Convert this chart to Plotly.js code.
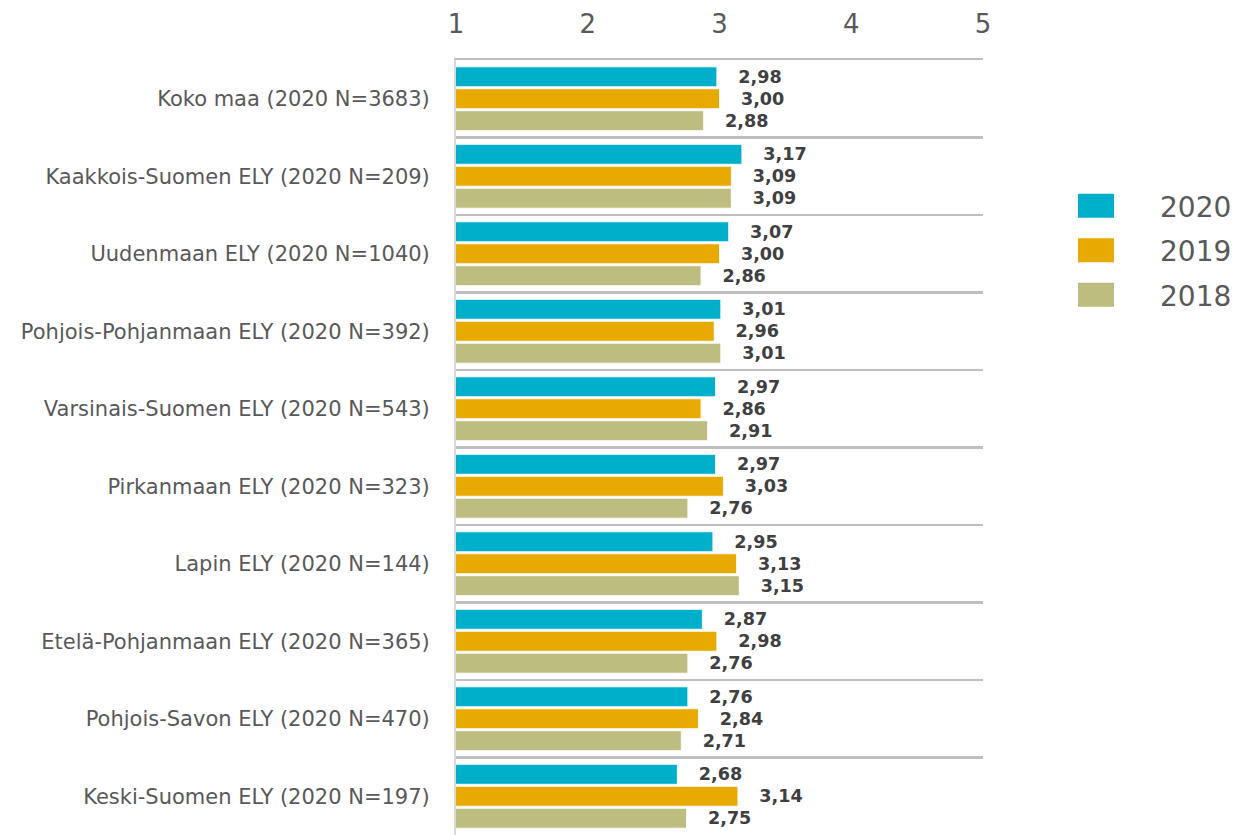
<!DOCTYPE html>
<html>
<head>
<meta charset="utf-8">
<script src="https://cdn.plot.ly/plotly-3.0.1.min.js"></script>
<style>html,body{margin:0;padding:0;background:#fff;}#chart{width:1238px;height:835px;}</style>
</head>
<body>
<div id="chart"></div>
<script>
const categories = [
  "Koko maa (2020 N=3683)",
  "Kaakkois-Suomen ELY (2020 N=209)",
  "Uudenmaan ELY (2020 N=1040)",
  "Pohjois-Pohjanmaan ELY (2020 N=392)",
  "Varsinais-Suomen ELY (2020 N=543)",
  "Pirkanmaan ELY (2020 N=323)",
  "Lapin ELY (2020 N=144)",
  "Etelä-Pohjanmaan ELY (2020 N=365)",
  "Pohjois-Savon ELY (2020 N=470)",
  "Keski-Suomen ELY (2020 N=197)"
];
const values2020 = [2.98, 3.17, 3.07, 3.01, 2.97, 2.97, 2.95, 2.87, 2.76, 2.68];
const values2019 = [3.00, 3.09, 3.00, 2.96, 2.86, 3.03, 3.13, 2.98, 2.84, 3.14];
const values2018 = [2.88, 3.09, 2.86, 3.01, 2.91, 2.76, 3.15, 2.76, 2.71, 2.75];
const seriesNames = ["2020", "2019", "2018"];
const seriesColors = ["#00AFC9", "#E9AA00", "#BDBD80"];
const xTicks = [1, 2, 3, 4, 5];

const FONT = "DejaVu Sans, Verdana, sans-serif";
const seriesValues = [values2020, values2019, values2018];

const traces = seriesValues.map((vals, i) => ({
  type: "bar",
  orientation: "h",
  name: seriesNames[i],
  legendgroup: seriesNames[i],
  y: categories,
  x: vals,
  marker: { color: seriesColors[i], line: { color: "rgba(255,255,255,0.9)", width: 1 } },
  texttemplate: "\u00a0\u00a0\u00a0%{x:.2f}",
  textposition: "outside",
  cliponaxis: false,
  textfont: { family: FONT, size: 18.5, color: "#404040", weight: "bold" },
  hoverinfo: "skip"
}));

const layout = {
  width: 1238,
  height: 835,
  margin: { l: 456, r: 255, t: 60, b: 0 },
  paper_bgcolor: "#ffffff",
  plot_bgcolor: "#ffffff",
  separators: ", ",
  barmode: "group",
  bargap: 0.15,
  bargroupgap: 0.09,
  font: { family: FONT, color: "#595959" },
  xaxis: {
    side: "top",
    range: [1, 5],
    tickvals: xTicks,
    ticktext: xTicks.map(String),
    showgrid: false,
    zeroline: false,
    showline: true,
    linecolor: "#BFBFBF",
    linewidth: 2.5,
    ticks: "",
    ticklabelstandoff: 14,
    tickfont: { family: FONT, size: 26, color: "#595959" }
  },
  yaxis: {
    type: "category",
    autorange: "reversed",
    tickson: "boundaries",
    showgrid: true,
    gridcolor: "#BFBFBF",
    gridwidth: 2.5,
    showline: true,
    linecolor: "#D9D9D9",
    linewidth: 2,
    ticks: "",
    ticklabelstandoff: 20,
    tickfont: { family: FONT, size: 21, color: "#595959" }
  },
  showlegend: true,
  legend: {
    x: 1.093,
    xanchor: "left",
    y: 0.754,
    yanchor: "middle",
    traceorder: "grouped",
    tracegroupgap: 5,
    itemwidth: 118,
    font: { family: FONT, size: 28, color: "#595959" },
    bgcolor: "rgba(0,0,0,0)"
  }
};

Plotly.newPlot("chart", traces, layout, { displayModeBar: false, staticPlot: true }).then(gd => {
  gd.querySelectorAll(".legendpoints path").forEach(p => {
    p.setAttribute("d", "M18,12H-18V-12H18Z");
    p.style.strokeWidth = "0px";
  });
});
</script>
</body>
</html>
